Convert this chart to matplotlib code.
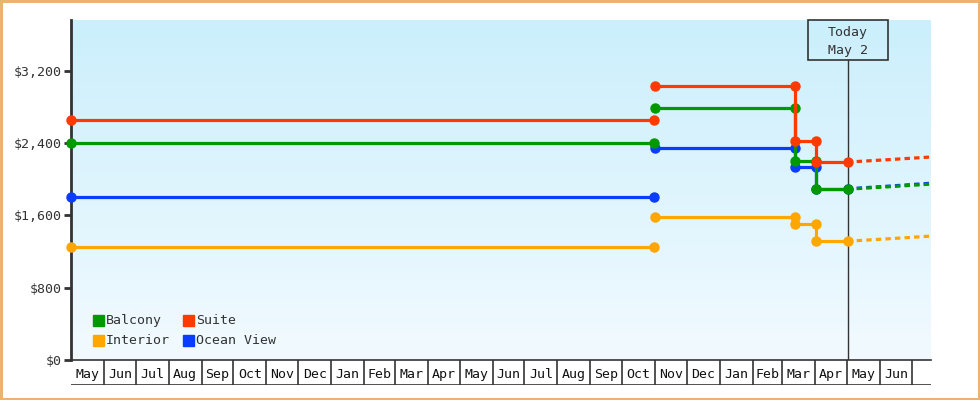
import numpy as np
import matplotlib
matplotlib.use("Agg")
import matplotlib.pyplot as plt
import matplotlib.dates as mdates
from matplotlib.patches import Rectangle
from matplotlib.transforms import IdentityTransform
from matplotlib.colors import LinearSegmentedColormap
from datetime import date

plt.rcParams['font.family'] = ['DejaVu Sans Mono']
plt.rcParams['font.size'] = 9.5

# price history per cabin type
names = ['Balcony', 'Suite', 'Interior', 'Ocean View']
colors = ['#009a00', '#ff3a00', '#ffa600', '#0a3cff']

# first fare period (flat)
old_start = date(2023, 5, 1)
old_end = date(2024, 10, 31)
old_prices = {'Balcony': 2400, 'Suite': 2650, 'Interior': 1250, 'Ocean View': 1800}

# second fare period: change dates and levels
change_dates = [date(2024, 11, 1), date(2025, 3, 13), date(2025, 4, 2)]
today = date(2025, 5, 2)
new_prices = {
    'Balcony': [2785, 2200, 1891],
    'Suite': [3028, 2421, 2189],
    'Interior': [1578, 1505, 1318],
    'Ocean View': [2344, 2134, 1891],
}

# forecast
fc_dates = [date(2025, 5, 10), date(2025, 6, 8), date(2025, 7, 19)]
fc_prices = {
    'Balcony': [1895, 1915, 1945],
    'Suite': [2195, 2215, 2245],
    'Interior': [1320, 1340, 1370],
    'Ocean View': [1900, 1922, 1955],
}

month_starts = [date(2023 + (4 + i) // 12, (4 + i) % 12 + 1, 1) for i in range(27)]
x_end = date(2025, 7, 19)

fig = plt.figure(figsize=(9.8, 4.0), dpi=100)
fig.patch.set_facecolor('white')
fig.patch.set_edgecolor('#eab274')
fig.patch.set_linewidth(2.2)

ax = fig.add_axes([71 / 980, 40 / 400, 860 / 980, 340 / 400])
ax.set_xlim(mdates.date2num(old_start), mdates.date2num(x_end))
ax.set_ylim(0, 3760)

# background gradient
grad = np.linspace(0, 1, 256).reshape(-1, 1)
cmap = LinearSegmentedColormap.from_list('bg', ['#f2faff', '#cbeffc'])
ax.imshow(grad, aspect='auto', cmap=cmap, origin='lower',
          extent=[*ax.get_xlim(), *ax.get_ylim()], zorder=0)

# draw order: ocean view under, suite on top
order = ['Ocean View', 'Balcony', 'Interior', 'Suite']
for name in order:
    c = colors[names.index(name)]
    # old period
    ax.plot([old_start, old_end], [old_prices[name]] * 2, color=c, lw=2.3,
            marker='o', ms=6.5, zorder=3, clip_on=False)
    # new period as steps with markers at both corners
    lv = new_prices[name]
    xs = [change_dates[0]]
    ys = [lv[0]]
    for d, v_prev, v in zip(change_dates[1:], lv[:-1], lv[1:]):
        xs += [d, d]
        ys += [v_prev, v]
    xs.append(today)
    ys.append(lv[-1])
    ax.plot(xs, ys, color=c, lw=2.3, marker='o', ms=6.5, zorder=3)
    ax.plot(fc_dates, fc_prices[name], color=c, lw=2.3, dashes=(1.7, 1.3), zorder=3)

# today line and box
tx = mdates.date2num(today)
px, py_top = ax.transAxes.transform((0, 1))
tpx = ax.transData.transform((tx, 0))[0]
box_w, box_h = 80, 40
ax.plot([tx, tx], [0, ax.get_ylim()[1] * (1 - box_h / 340)], color='#333333', lw=1, zorder=2)
fig.patches.append(Rectangle((tpx - box_w / 2, py_top - box_h), box_w, box_h,
                             transform=IdentityTransform(), facecolor='none',
                             edgecolor='#333333', lw=1.2, zorder=5))
fig.text(tpx / 980, (py_top - box_h / 2 - 1.5) / 400, 'Today\nMay 2', ha='center', va='center',
         color='#333333', linespacing=1.45)

# axes styling
for s in ['top', 'right']:
    ax.spines[s].set_visible(False)
ax.spines['left'].set_color('#333333')
ax.spines['left'].set_linewidth(2)
ax.spines['bottom'].set_color('#333333')
ax.spines['bottom'].set_linewidth(1.2)
ax.set_yticks([0, 800, 1600, 2400, 3200])
ax.set_yticklabels(['$0', '$800', '$1,600', '$2,400', '$3,200'])
ax.tick_params(axis='y', length=5, width=2, color='#333333', labelcolor='#333333', pad=2)
ax.set_xticks([])

# month row
mx = fig.add_axes([71 / 980, 15 / 400, 860 / 980, 25 / 400], sharex=ax)
mx.set_ylim(0, 1)
mx.axis('off')
mx.axhline(0, color='#333333', lw=1.2)
for i, m in enumerate(month_starts[:-1]):
    if i > 0:
        mx.plot([m, m], [0, 1], color='#333333', lw=1.2)
    nxt = month_starts[i + 1]
    mid = mdates.date2num(m) + (mdates.date2num(nxt) - mdates.date2num(m)) / 2
    mx.text(mid, 0.42, m.strftime('%b'), ha='center', va='center', color='#111111')
mx.plot([month_starts[-1]] * 2, [0, 1], color='#333333', lw=1.2)

# legend, drawn by hand so both columns line up
leg_names = [['Balcony', 'Suite'], ['Interior', 'Ocean View']]
col_x = [22 / 860, 112 / 860]
row_y = [39.5 / 340, 19.5 / 340]
sq_w, sq_h = 11 / 860, 11 / 340
for r, row in enumerate(leg_names):
    for k, n in enumerate(row):
        ax.add_patch(Rectangle((col_x[k], row_y[r] - sq_h / 2), sq_w, sq_h,
                               transform=ax.transAxes, color=colors[names.index(n)], zorder=4))
        ax.text(col_x[k] + sq_w + 2 / 860, row_y[r], n, transform=ax.transAxes,
                ha='left', va='center', color='#333333', zorder=4)

fig.savefig('out.png', dpi=100)
